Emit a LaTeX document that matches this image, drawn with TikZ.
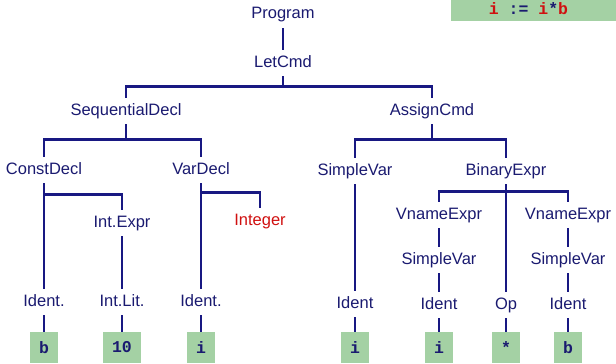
\documentclass[tikz,border=0pt]{standalone}
\usepackage{fontspec}
\setmainfont{Liberation Sans}
\setmonofont{Liberation Mono}
\definecolor{navy}{RGB}{26,26,112}
\definecolor{treeline}{RGB}{24,24,130}
\definecolor{litred}{RGB}{208,16,16}
\definecolor{leafgreen}{RGB}{164,209,164}
\tikzset{
  sym/.style={text=navy, font=\fontsize{16.5}{18}\selectfont, inner xsep=2pt, inner ysep=5.5pt,
    text height=11.5pt, text depth=3.5pt},
  leaf/.style={fill=leafgreen, text=navy, font=\fontsize{16.5}{18}\selectfont\ttfamily\bfseries,
    minimum height=31pt, minimum width=27pt, inner xsep=9pt, inner ysep=0pt},
  sentence/.style={text=navy, font=\fontsize{16.5}{18}\selectfont\ttfamily\bfseries, inner sep=0pt},
  branch/.style={draw=treeline, line width=2.6pt},
}

\begin{document}
\begin{tikzpicture}[x=1pt,y=-1pt]
  \useasboundingbox (0,0) rectangle (616,364);
  % the source sentence, top right
  \fill[leafgreen] (451,-2) rectangle (616,21);
  \node[sentence] (src) at (528.5,9) {\textcolor{litred}{i} := \textcolor{litred}{i}*\textcolor{litred}{b}};

  % upper part of the tree
  \node[sym] (prog) at (283,15) {Program};
  \node[sym] (let) at (283,63) {LetCmd};
  \node[sym] (seq) at (126,111) {SequentialDecl};
  \node[sym] (assign) at (432,111) {AssignCmd};

  % declarations
  \node[sym] (const) at (44,170) {ConstDecl};
  \node[sym] (var) at (201,170) {VarDecl};
  \node[sym] (intexpr) at (122,223) {Int.Expr};
  \node[sym,text=litred] (integer) at (260,221) {Integer};
  \node[sym] (id1) at (44,302) {Ident.};
  \node[sym] (intlit) at (122,302) {Int.Lit.};
  \node[sym] (id2) at (201,302) {Ident.};

  % command
  \node[sym] (sv1) at (355,171) {SimpleVar};
  \node[sym] (bin) at (506,171) {BinaryExpr};
  \node[sym] (vn1) at (439,215) {VnameExpr};
  \node[sym] (vn2) at (568,215) {VnameExpr};
  \node[sym] (sv2) at (439,260) {SimpleVar};
  \node[sym] (sv3) at (568,260) {SimpleVar};
  \node[sym] (id3) at (355,304) {Ident};
  \node[sym] (id4) at (439,305) {Ident};
  \node[sym] (op) at (506,305) {Op};
  \node[sym] (id5) at (568,305) {Ident};

  % terminals
  \node[leaf] (tb1) at (44,347.5) {b};
  \node[leaf] (tten) at (122,347.5) {10};
  \node[leaf] (ti1) at (201,347.5) {i};
  \node[leaf] (ti2) at (355,347.5) {i};
  \node[leaf] (ti3) at (439,347.5) {i};
  \node[leaf] (tstar) at (506,347.5) {*};
  \node[leaf] (tb2) at (568,347.5) {b};

  % branches: a bar just below the parent, then down to each child
  \draw[branch] (prog.south) -- (let.north);
  \draw[branch] (let.south) -- ++(0,10.5) coordinate (letbar);
  \draw[branch] (seq.north) |- (letbar) -| (assign.north);
  \draw[branch] (seq.south) -- ++(0,15.5) coordinate (seqbar);
  \draw[branch] (const.north) |- (seqbar) -| (var.north);
  \draw[branch] (assign.south) -- ++(0,15.5) coordinate (assignbar);
  \draw[branch] (sv1.north) |- (assignbar) -| (bin.north);

  \coordinate (constbar) at ([yshift=-11.5pt]const.south);
  \draw[branch] (const.south) -- (id1.north);
  \draw[branch] (constbar) -| (intexpr.north);
  \draw[branch] (intexpr.south) -- (intlit.north);
  \coordinate (varbar) at ([yshift=-9.5pt]var.south);
  \draw[branch] (var.south) -- (id2.north);
  \draw[branch] (varbar) -| (integer.north);

  \draw[branch] (sv1.south) -- (id3.north);
  \coordinate (binbar) at ([yshift=-7.5pt]bin.south);
  \draw[branch] (bin.south) -- (op.north);
  \draw[branch] (vn1.north) |- (binbar) -| (vn2.north);
  \draw[branch] (vn1.south) -- (sv2.north);
  \draw[branch] (sv2.south) -- (id4.north);
  \draw[branch] (vn2.south) -- (sv3.north);
  \draw[branch] (sv3.south) -- (id5.north);

  \draw[branch] (id1.south) -- (tb1.north);
  \draw[branch] (intlit.south) -- (tten.north);
  \draw[branch] (id2.south) -- (ti1.north);
  \draw[branch] (id3.south) -- (ti2.north);
  \draw[branch] (id4.south) -- (ti3.north);
  \draw[branch] (op.south) -- (tstar.north);
  \draw[branch] (id5.south) -- (tb2.north);
\end{tikzpicture}
\end{document}
